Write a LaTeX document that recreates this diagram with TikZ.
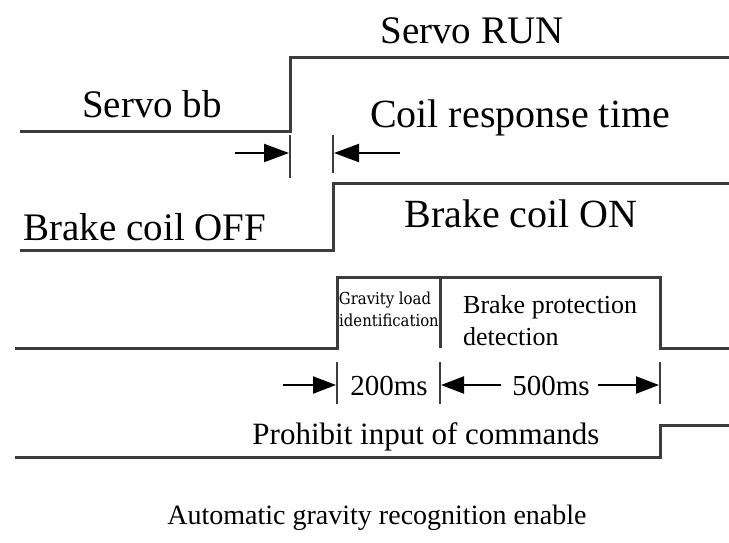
\documentclass[tikz,border=0pt]{standalone}
\usepackage{fontspec}
\setmainfont{Liberation Serif}
\newfontfamily\smallserif{DejaVu Serif Condensed}
\usetikzlibrary{arrows.meta}
\definecolor{wave}{HTML}{3C3C3C}
\tikzset{
  sig/.style={draw=wave, line width=3pt, line join=miter},
  tick/.style={draw=wave, line width=2.2pt},
  dimarrow/.style={draw=black, line width=2.2pt, -{Triangle[length=23pt,width=17pt]}},
  bigarrow/.style={draw=black, line width=2.2pt, -{Triangle[length=25pt,width=18pt]}},
  lbl/.style={inner sep=0pt, anchor=base, text=black},
}
\begin{document}
\begin{tikzpicture}[x=1pt,y=-1pt]
\useasboundingbox (0,0) rectangle (729,542);
% ---- Servo signal
\coordinate (s0) at (20,131);
\coordinate (s1) at (290,131);
\coordinate (s2) at (290,57);
\coordinate (s3) at (729,57);
\draw[sig] (s0) -- (s1) -- (s2) -- (s3);
\node[lbl, font=\fontsize{39}{39}\selectfont] (run) at (472,43) {Servo RUN};
\node[lbl, font=\fontsize{39}{39}\selectfont] (bb) at (152,117) {Servo bb};
\node[lbl, font=\fontsize{40}{40}\selectfont] (crt) at (520,127) {Coil response time};
% ---- coil response time dimension
\coordinate (t1a) at (290,135);
\coordinate (t1b) at (290,178);
\coordinate (t2a) at (333,135);
\coordinate (t2b) at (333,173);
\draw[tick] (t1a) -- (t1b);
\draw[tick] (t2a) -- (t2b);
\coordinate (a1s) at (235,153);
\coordinate (a1e) at (289,153);
\coordinate (a2s) at (400,153);
\coordinate (a2e) at (334,153);
\draw[bigarrow] (a1s) -- (a1e);
\draw[bigarrow] (a2s) -- (a2e);
% ---- Brake coil signal
\coordinate (c0) at (20,250);
\coordinate (c1) at (333,250);
\coordinate (c2) at (333,183);
\coordinate (c3) at (729,183);
\draw[sig] (c0) -- (c1) -- (c2) -- (c3);
\node[lbl, font=\fontsize{39}{39}\selectfont] (off) at (145,240) {Brake coil OFF};
\node[lbl, font=\fontsize{40}{40}\selectfont] (on) at (521,227) {Brake coil ON};
% ---- Gravity / brake detection signal
\coordinate (g0) at (15,348);
\coordinate (g1) at (337,348);
\coordinate (g2) at (337,277);
\coordinate (g3) at (660,277);
\coordinate (g4) at (660,348);
\coordinate (g5) at (729,348);
\coordinate (gd1) at (440,277);
\coordinate (gd2) at (440,348);
\draw[sig] (g0) -- (g1) -- (g2) -- (g3) -- (g4) -- (g5);
\node[lbl, font=\smallserif\fontsize{16.5}{16.5}\selectfont] (grav1) at (385,304) {Gravity load};
\node[lbl, font=\smallserif\fontsize{16.5}{16.5}\selectfont] (grav2) at (389,326) {identification};
\draw[sig] (gd1) -- (gd2);
\node[lbl, anchor=base west, font=\fontsize{26}{26}\selectfont] (bp1) at (463,313) {Brake protection};
\node[lbl, anchor=base west, font=\fontsize{26}{26}\selectfont] (bp2) at (463,345) {detection};
% ---- 200ms / 500ms dimension
\coordinate (d1a) at (337,362);
\coordinate (d1b) at (337,404);
\coordinate (d2a) at (440,362);
\coordinate (d2b) at (440,404);
\coordinate (d3a) at (660,362);
\coordinate (d3b) at (660,404);
\draw[tick] (d1a) -- (d1b);
\draw[tick] (d2a) -- (d2b);
\draw[tick] (d3a) -- (d3b);
\coordinate (b1s) at (283,385);
\coordinate (b1e) at (336,385);
\coordinate (b2s) at (501,385);
\coordinate (b2e) at (441,385);
\coordinate (b3s) at (598,385);
\coordinate (b3e) at (659,385);
\draw[dimarrow] (b1s) -- (b1e);
\draw[dimarrow] (b2s) -- (b2e);
\draw[dimarrow] (b3s) -- (b3e);
\node[lbl, font=\fontsize{29}{29}\selectfont] (ms200) at (389,395) {200ms};
\node[lbl, font=\fontsize{29}{29}\selectfont] (ms500) at (551,395) {500ms};
% ---- Prohibit signal
\coordinate (p0) at (15,457);
\coordinate (p1) at (660,457);
\coordinate (p2) at (660,425);
\coordinate (p3) at (729,425);
\draw[sig] (p0) -- (p1) -- (p2) -- (p3);
\node[lbl, font=\fontsize{31}{31}\selectfont] (proh) at (426,444) {Prohibit input of commands};
% ---- caption
\node[lbl, font=\fontsize{28}{28}\selectfont] (cap) at (377,524) {Automatic gravity recognition enable};
\end{tikzpicture}
\end{document}
